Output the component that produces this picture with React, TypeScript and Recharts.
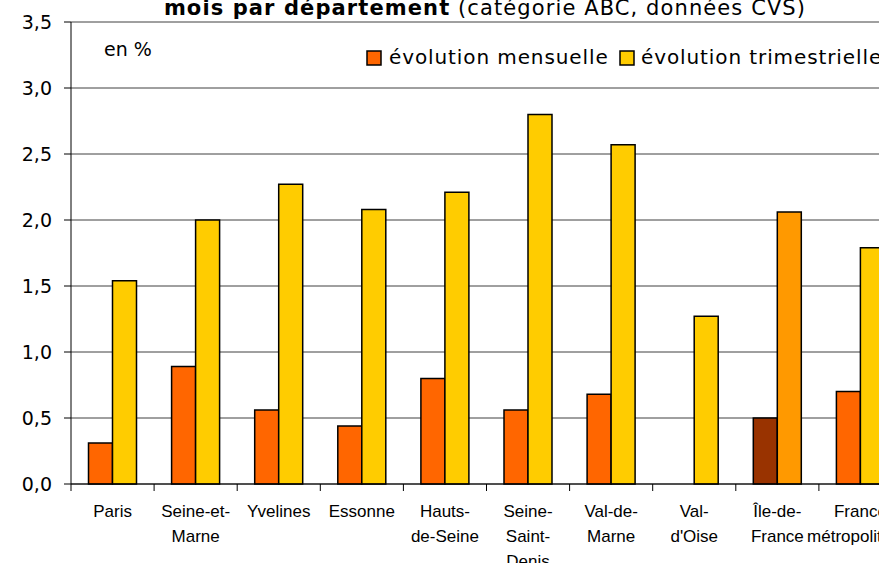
import React from "react"
import { BarChart, Bar, XAxis, YAxis, CartesianGrid, Cell } from "recharts"

const categories = [
  "Paris",
  "Seine-et-\nMarne",
  "Yvelines",
  "Essonne",
  "Hauts-\nde-Seine",
  "Seine-\nSaint-\nDenis",
  "Val-de-\nMarne",
  "Val-\nd'Oise",
  "Île-de-\nFrance",
  "France\nmétropolitaine",
]
const mensuelle = [0.31, 0.89, 0.56, 0.44, 0.8, 0.56, 0.68, 0, 0.5, 0.7]
const trimestrielle = [1.54, 2.0, 2.27, 2.08, 2.21, 2.8, 2.57, 1.27, 2.06, 1.79]
const yTicks = [0, 0.5, 1, 1.5, 2, 2.5, 3, 3.5]
const highlighted = "Île-de-\nFrance"

const ORANGE = "#FF6600"
const YELLOW = "#FFCC00"
const BROWN = "#993300"
const AMBER = "#FF9900"
const TEXT_FONT = "'DejaVu Sans', Verdana, sans-serif"

const data = categories.map((name, i) => ({
  name,
  mensuelle: mensuelle[i],
  trimestrielle: trimestrielle[i],
}))

function CategoryTick(props: any) {
  const { x, y, payload } = props
  const half = payload && payload.offset ? payload.offset : 41.5
  const lines = String(payload.value).split("\n")
  return (
    <g>
      <line x1={x - half} x2={x - half} y1={y} y2={y + 7} stroke="#000" strokeWidth={1} />
      {lines.map((line, i) => (
        <text
          key={i}
          x={x}
          y={y + 33 + i * 25}
          textAnchor="middle"
          fontFamily="'Liberation Sans', Arial, sans-serif"
          fontSize={17}
          fill="#000"
        >
          {line}
        </text>
      ))}
    </g>
  )
}

export default function App() {
  return (
    <div style={{ position: "absolute", left: 0, top: 0, width: 879, height: 563, overflow: "hidden", background: "#fff" }}>
      <BarChart
        width={912}
        height={563}
        data={data}
        margin={{ top: 22, right: 10, left: 11, bottom: 0 }}
        barCategoryGap={17.5}
        barGap={0}
      >
        <CartesianGrid vertical={false} stroke="#404040" strokeWidth={1} />
        <XAxis
          dataKey="name"
          height={79}
          interval={0}
          tickLine={false}
          tickSize={0}
          tickMargin={0}
          axisLine={{ stroke: "#000" }}
          tick={<CategoryTick />}
        />
        <YAxis
          width={60}
          domain={[0, 3.5]}
          ticks={yTicks}
          interval={0}
          tickSize={7}
          tickMargin={12}
          axisLine={{ stroke: "#000" }}
          tickLine={{ stroke: "#000" }}
          tick={{ fontFamily: TEXT_FONT, fontSize: 19, fill: "#000" }}
          tickFormatter={(v: number) => v.toFixed(1).replace(".", ",")}
        />
        <Bar dataKey="mensuelle" fill={ORANGE} stroke="#000" strokeWidth={1.5} isAnimationActive={false}>
          {data.map((d, i) => (
            <Cell key={i} fill={d.name === highlighted ? BROWN : ORANGE} />
          ))}
        </Bar>
        <Bar dataKey="trimestrielle" fill={YELLOW} stroke="#000" strokeWidth={1.5} isAnimationActive={false}>
          {data.map((d, i) => (
            <Cell key={i} fill={d.name === highlighted ? AMBER : YELLOW} />
          ))}
        </Bar>
      </BarChart>
      <svg width={879} height={563} style={{ position: "absolute", left: 0, top: 0, pointerEvents: "none" }}>
        <text x={485} y={15} textAnchor="middle" fontFamily={TEXT_FONT} fontSize={21} letterSpacing={1.1} fill="#000">
          <tspan fontWeight="bold">mois par département</tspan>
          <tspan> (catégorie ABC, données CVS)</tspan>
        </text>
        <text x={104} y={56} fontFamily={TEXT_FONT} fontSize={19} fill="#000">en %</text>
        <rect x={367} y={51} width={14} height={14} fill={ORANGE} stroke="#000" strokeWidth={1.5} />
        <text x={389} y={64} fontFamily={TEXT_FONT} fontSize={20} letterSpacing={0.9} fill="#000">évolution mensuelle</text>
        <rect x={620} y={51} width={14} height={14} fill={YELLOW} stroke="#000" strokeWidth={1.5} />
        <text x={641} y={64} fontFamily={TEXT_FONT} fontSize={20} letterSpacing={0.9} fill="#000">évolution trimestrielle</text>
      </svg>
    </div>
  )
}
